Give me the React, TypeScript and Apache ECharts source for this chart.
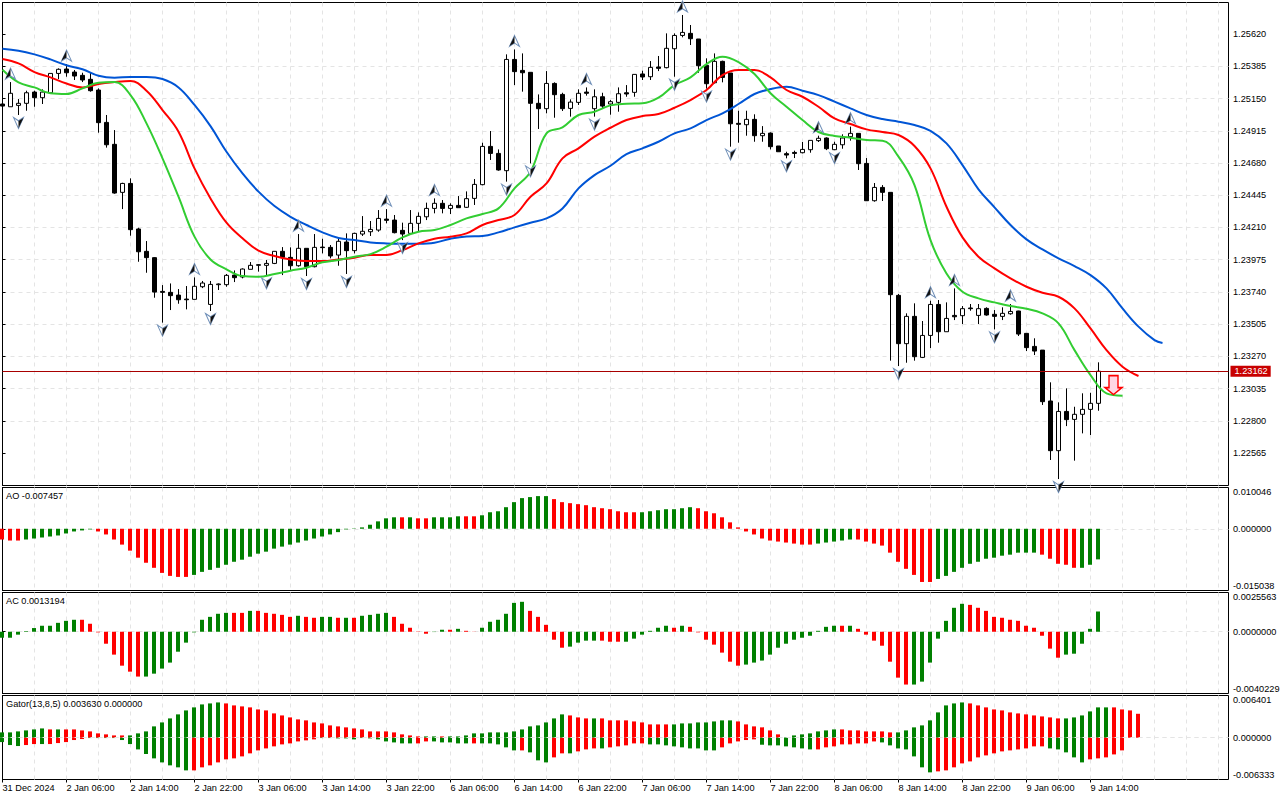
import React, { useEffect, useRef } from "react";
import * as echarts from "echarts";

// Prices are written in points (1 point = 0.00001)
const POINT = 0.00001;
const opens = [125110,125090,125100,125115,125197,125156,125192,125333,125365,125343,125319,125290,125212,124976,124816,124466,124531,124199,124036,123990,123744,123737,123717,123688,123686,123778,123649,123793,123793,123863,123849,123905,123934,123934,123948,124036,123992,123931,124058,123924,124067,124065,124009,124104,124041,124162,124179,124191,124271,124264,124189,124167,124240,124288,124349,124386,124349,124371,124357,124422,124522,124801,124750,124624,125435,125355,125341,125115,125076,125260,125180,125078,125122,125197,125076,125163,125110,125122,125192,125195,125329,125309,125380,125375,125513,125610,125625,125584,125392,125265,125421,125336,124969,124959,124998,124879,124898,124804,124748,124757,124755,124777,124843,124862,124777,124813,124872,124896,124677,124405,124502,124466,123715,123363,123562,123263,123423,123649,123450,123569,123567,123623,123569,123620,123577,123562,123581,123601,123438,123343,123316,122945,122583,122869,122811,122848,122884,122928];
const closes = [125095,125188,125115,125192,125156,125197,125333,125363,125338,125314,125285,125207,124974,124813,124461,124531,124194,124033,123990,123739,123737,123713,123683,123683,123781,123805,123795,123798,123861,123844,123907,123934,123939,123948,124036,123992,123931,124058,123924,124065,124063,124002,124109,124041,124167,124182,124196,124276,124262,124172,124162,124240,124291,124349,124386,124349,124371,124354,124420,124524,124801,124750,124629,125435,125346,125338,125115,125076,125260,125178,125076,125124,125188,125188,125163,125095,125127,125185,125183,125326,125307,125377,125370,125516,125610,125632,125586,125389,125258,125421,125304,124966,124962,124998,124879,124896,124799,124762,124738,124750,124779,124845,124860,124784,124816,124862,124896,124675,124405,124502,124466,123720,123363,123562,123268,123423,123649,123450,123547,123559,123618,123618,123618,123572,123562,123584,123598,123433,123334,123309,122940,122583,122869,122809,122848,122884,122928,123162];
const highs = [125139,125270,125146,125207,125207,125217,125333,125370,125401,125358,125338,125343,125224,125030,124920,124536,124568,124208,124111,123994,123790,123802,123761,123783,123846,123820,123820,123802,123871,123897,123912,123958,123943,123973,124036,124067,124065,124162,124058,124162,124128,124082,124128,124167,124172,124293,124257,124337,124344,124301,124245,124337,124320,124391,124422,124410,124386,124439,124473,124563,124828,124913,124779,125472,125508,125479,125341,125180,125350,125268,125192,125144,125217,125231,125217,125192,125139,125231,125248,125326,125353,125423,125460,125625,125625,125759,125686,125584,125443,125479,125426,125336,125061,125061,125035,124949,124903,124804,124762,124770,124833,124845,124879,124867,124835,124889,124945,124896,124716,124534,124519,124466,123725,123584,123657,123528,123676,123681,123664,123766,123637,123652,123652,123628,123608,123628,123652,123603,123438,123402,123316,123081,122935,123037,122903,123001,123005,123227];
const lows = [125066,125090,125030,125061,125090,125110,125192,125292,125309,125285,125270,125200,124901,124792,124456,124344,124150,123960,123880,123698,123516,123608,123654,123613,123686,123768,123601,123754,123778,123812,123839,123905,123888,123861,123943,123863,123900,123924,123856,123919,124021,123985,123931,123871,124021,124148,124148,124179,124240,124167,124118,124162,124179,124264,124313,124313,124308,124354,124352,124374,124517,124702,124624,124544,125248,125200,124677,124928,125042,125010,125059,125018,125103,125171,125018,125078,125032,125054,125163,125163,125285,125285,125350,125370,125309,125596,125540,125338,125222,125260,125268,124799,124828,124879,124835,124835,124779,124762,124714,124716,124750,124755,124833,124774,124774,124784,124843,124629,124403,124398,124403,123239,123200,123224,123239,123258,123331,123370,123450,123535,123506,123603,123506,123567,123467,123535,123574,123419,123309,123280,122916,122515,122376,122762,122510,122709,122697,122874];

// Alligator lines (the blue line's last entry is bar 145)
const jawValues = [125513,125499,125472,125435,125392,125363,125316,125302,125307,125307,125292,125231,125103,124949,124762,124604,124471,124366,124288,124228,124174,124133,124118,124101,124094,124092,124092,124099,124128,124145,124148,124174,124211,124245,124276,124349,124495,124592,124660,124745,124787,124835,124896,124932,124993,125042,125110,125183,125219,125236,125207,125175,125127,125078,125030,125000,124981,124957,124915,124823,124665,124488,124357,124228,124123,124050,123985,123929,123863,123766,123620,123487,123389,123368];
const teethValues = [125438,125406,125343,125304,125260,125231,125256,125270,125278,125207,125066,124908,124641,124422,124245,124131,124041,124002,123977,123965,123965,123977,123990,124009,124009,124045,124094,124128,124143,124167,124228,124264,124301,124434,124531,124714,124787,124872,124937,124993,125022,125037,125083,125139,125212,125321,125358,125358,125304,125212,125163,125090,125005,124964,124925,124906,124884,124804,124641,124361,124138,123997,123912,123839,123778,123734,123705,123620,123474,123316,123195,123127];
const lipsValues = [125360,125268,125231,125188,125183,125224,125265,125270,125175,124969,124714,124434,124143,123977,123905,123856,123851,123871,123895,123917,123956,123973,123997,124016,124070,124138,124179,124191,124228,124276,124308,124349,124495,124617,124896,124940,125030,125054,125100,125112,125115,125156,125248,125304,125401,125455,125416,125329,125188,125090,124993,124906,124877,124864,124847,124843,124726,124519,124118,123875,123742,123693,123664,123637,123618,123584,123511,123316,123134,123001,122984];

const fractalUpBars = [1,8,24,37,48,54,64,73,85,102,106,116,119,126];
const fractalDownBars = [2,20,26,33,38,43,50,63,66,74,84,88,91,98,104,112,124,132];
const sellArrow: [number, number] = [139, 1.23061];

const aoValues = [-0.00262,-0.00287,-0.00287,-0.00262,-0.00238,-0.00213,-0.00189,-0.00164,-0.00115,-0.00066,-0.00041,-0.00016,-0.00066,-0.00139,-0.00262,-0.00386,-0.00533,-0.00705,-0.00828,-0.00951,-0.01075,-0.01148,-0.01173,-0.01173,-0.01124,-0.0105,-0.01001,-0.00951,-0.00877,-0.00804,-0.00754,-0.00681,-0.00607,-0.00558,-0.00484,-0.00435,-0.00386,-0.00336,-0.00287,-0.00238,-0.00189,-0.00139,-0.00082,-0.00016,0.00008,0.00033,0.00098,0.0018,0.00254,0.00279,0.00279,0.00279,0.00254,0.00254,0.00279,0.00279,0.00279,0.00303,0.00303,0.00303,0.00328,0.00402,0.00426,0.00525,0.00648,0.00746,0.00771,0.00795,0.00795,0.00722,0.00648,0.00623,0.00599,0.00574,0.00525,0.005,0.00476,0.00426,0.00402,0.00402,0.00402,0.00426,0.00451,0.00476,0.00476,0.005,0.00525,0.005,0.00426,0.00377,0.00279,0.00156,0.00033,-0.00066,-0.00139,-0.00238,-0.00287,-0.00312,-0.00336,-0.00361,-0.00386,-0.00386,-0.00361,-0.00336,-0.00312,-0.00287,-0.00262,-0.00262,-0.00312,-0.00361,-0.0041,-0.00582,-0.00804,-0.00976,-0.01124,-0.01296,-0.01296,-0.01222,-0.01148,-0.0105,-0.00951,-0.00853,-0.00804,-0.0073,-0.00705,-0.00656,-0.00631,-0.00582,-0.00582,-0.00582,-0.00631,-0.0073,-0.00853,-0.00877,-0.00951,-0.00951,-0.00877,-0.007457];
const aoRuns: [string, number][] = [["r",3],["g",9],["r",12],["g",26],["r",1],["g",1],["r",2],["g",4],["r",2],["g",9],["r",11],["g",7],["r",15],["g",5],["r",10],["g",13],["r",5],["g",3]];

const acValues = [-0.00039,-0.00039,-0.00019,0.00004,0.00024,0.00039,0.00039,0.00058,0.00071,0.00078,0.00078,0.00052,-0.00004,-0.00078,-0.00149,-0.00221,-0.0026,-0.00292,-0.00292,-0.00273,-0.0024,-0.00201,-0.0013,-0.00071,-0.00004,0.00078,0.00097,0.00117,0.00123,0.00123,0.00123,0.00136,0.00136,0.00123,0.00117,0.0011,0.00097,0.00104,0.00097,0.00091,0.00097,0.00097,0.00091,0.00091,0.00091,0.00104,0.0011,0.00117,0.00123,0.00097,0.00052,0.00026,0.00002,-0.00013,-0.00002,0.00013,0.00013,0.00019,0.00006,0.00001,0.00026,0.00065,0.00078,0.00117,0.00188,0.00195,0.00136,0.00097,0.00045,-0.00052,-0.00104,-0.00097,-0.00071,-0.00058,-0.00058,-0.00058,-0.00065,-0.00065,-0.00065,-0.00045,-0.00019,0.00006,0.00026,0.00039,0.00026,0.00039,0.00032,-0.00004,-0.00052,-0.00084,-0.00136,-0.00195,-0.00221,-0.00214,-0.00201,-0.00188,-0.00149,-0.00104,-0.00078,-0.00052,-0.00039,-0.00026,0.00006,0.00032,0.00039,0.00039,0.00039,0.00019,-0.00019,-0.00058,-0.00091,-0.00195,-0.00299,-0.00344,-0.00344,-0.00325,-0.00201,-0.00045,0.00071,0.00156,0.00182,0.00175,0.00156,0.00136,0.00097,0.00091,0.00078,0.00071,0.00039,0.00026,-0.00026,-0.0011,-0.00169,-0.00149,-0.00143,-0.00078,0.00019,0.0013194];
const acRuns: [string, number][] = [["g",10],["r",8],["g",11],["r",2],["g",1],["r",5],["g",1],["r",2],["g",2],["r",1],["g",1],["r",1],["g",4],["r",5],["g",2],["r",1],["g",1],["r",2],["g",6],["r",5],["g",4],["r",3],["g",6],["r",1],["g",1],["r",7],["g",12],["r",1],["g",1],["r",7],["g",7],["r",12],["g",5]];

const gatorUpper = [0.00081,0.00081,0.00096,0.00111,0.00126,0.00141,0.00126,0.00126,0.00126,0.00126,0.00111,0.00096,0.00066,0.00051,0.00035,0.00035,0.00035,0.00066,0.00096,0.00172,0.00232,0.00293,0.00354,0.00414,0.0046,0.00505,0.0052,0.00535,0.0052,0.0049,0.00475,0.0046,0.00429,0.00414,0.00369,0.00338,0.00308,0.00278,0.00263,0.00232,0.00217,0.00187,0.00172,0.00157,0.00141,0.00126,0.00096,0.00096,0.00096,0.00081,0.00051,0.00035,0.0002,0.0002,0.0002,0.0002,0.0002,0.0002,0.00035,0.00066,0.00066,0.00081,0.00081,0.00081,0.00096,0.00126,0.00172,0.00187,0.00232,0.00293,0.00354,0.00338,0.00308,0.00293,0.00293,0.00293,0.00263,0.00263,0.00263,0.00247,0.00232,0.00202,0.00202,0.00202,0.00202,0.00217,0.00217,0.00232,0.00232,0.00247,0.00263,0.00263,0.00247,0.00202,0.00172,0.00157,0.00111,0.00051,0.00005,0.00035,0.00051,0.00066,0.00096,0.00111,0.00126,0.00126,0.00111,0.00111,0.00096,0.00096,0.00096,0.00081,0.00081,0.00111,0.00157,0.00187,0.00263,0.00384,0.0049,0.0052,0.00535,0.0052,0.0049,0.0046,0.00429,0.00414,0.00384,0.00369,0.00354,0.00338,0.00323,0.00308,0.00293,0.00293,0.00308,0.00338,0.00399,0.0046,0.0046,0.0046,0.00429,0.00414,0.00363];
const gatorUpperRuns: [string, number][] = [["g",6],["r",1],["g",1],["r",8],["g",12],["r",25],["g",2],["r",1],["g",15],["r",3],["g",1],["r",9],["g",8],["r",6],["g",7],["r",7],["g",9],["r",12],["g",6],["r",4]];
const gatorLower = [-0.00066,-0.00111,-0.00126,-0.00111,-0.00096,-0.00096,-0.00096,-0.00081,-0.00066,-0.00035,-0.0002,-0.00005,-0.00005,-0.00005,-0.00005,-0.00035,-0.00096,-0.00177,-0.00247,-0.00313,-0.00374,-0.00419,-0.00449,-0.00495,-0.00495,-0.00449,-0.00419,-0.00374,-0.00328,-0.00313,-0.00283,-0.00237,-0.00192,-0.00162,-0.00131,-0.00101,-0.00086,-0.00056,-0.0004,-0.00025,-0.00005,-0.00005,-0.0001,-0.0001,-0.00025,-0.00005,-0.0001,-0.00025,-0.00056,-0.00071,-0.00086,-0.00086,-0.00086,-0.00056,-0.00056,-0.00071,-0.00071,-0.00086,-0.00086,-0.00086,-0.00086,-0.00086,-0.00101,-0.00146,-0.00192,-0.00192,-0.00222,-0.00343,-0.00374,-0.00298,-0.00237,-0.00237,-0.00207,-0.00177,-0.00162,-0.00162,-0.00146,-0.00131,-0.00116,-0.00086,-0.00086,-0.00101,-0.00101,-0.00116,-0.00131,-0.00146,-0.00162,-0.00162,-0.00192,-0.00192,-0.00146,-0.00086,-0.00056,-0.00035,-0.00025,-0.00106,-0.00116,-0.00116,-0.00131,-0.00146,-0.00162,-0.00177,-0.00177,-0.00146,-0.00131,-0.00101,-0.00101,-0.00086,-0.00086,-0.00056,-0.00071,-0.00116,-0.00162,-0.00177,-0.00283,-0.00449,-0.00525,-0.0051,-0.00495,-0.00449,-0.00389,-0.00359,-0.00298,-0.00268,-0.00237,-0.00207,-0.00192,-0.00177,-0.00162,-0.00131,-0.00131,-0.00162,-0.00177,-0.00222,-0.00298,-0.00374,-0.00328,-0.00313,-0.00298,-0.00253,-0.00192,0,0];
const gatorLowerRuns: [string, number][] = [["g",3],["r",2],["g",1],["r",5],["g",13],["r",16],["g",12],["r",2],["g",5],["r",1],["g",5],["r",1],["g",3],["r",2],["g",1],["r",3],["g",1],["r",5],["g",9],["r",5],["g",7],["r",8],["g",7],["r",14],["g",5],["r",7]];

const timeLabels = ["31 Dec 2024","2 Jan 06:00","2 Jan 14:00","2 Jan 22:00","3 Jan 06:00","3 Jan 14:00","3 Jan 22:00","6 Jan 06:00","6 Jan 14:00","6 Jan 22:00","7 Jan 06:00","7 Jan 14:00","7 Jan 22:00","8 Jan 06:00","8 Jan 14:00","8 Jan 22:00","9 Jan 06:00","9 Jan 14:00"];
const priceTicks = [1.2562,1.25385,1.2515,1.24915,1.2468,1.24445,1.2421,1.23975,1.2374,1.23505,1.2327,1.23035,1.228,1.22565];
const lastPrice = 1.23162;
const aoScale = [-0.015038, 0.010046];
const acScale = [-0.0040229, 0.0025563];
const gatorScale = [-0.006333, 0.006401];

const FONT = "Liberation Sans";
const FONT_SIZE = 9.2;
const GREEN = "#008000";
const RED = "#ff0000";
const GRID_COLOR = "#e4e4e4";
const X_MAX = 153.25;
const LABEL_STEP = 8;
// half a pixel (1/16 of a bar) so that 4px columns fall on whole pixels
const COLUMN_SHIFT = -0.0625;

const expand = (runs: [string, number][]) =>
  runs.flatMap(([c, n]) => Array.from({ length: n }, () => (c === "g" ? GREEN : RED)));

const histogram = (values: number[], runs: [string, number][]) => {
  const colors = expand(runs);
  return values.map((v, i) => ({ value: [i + COLUMN_SHIFT, v], itemStyle: { color: colors[i] } }));
};

const alligator = (values: number[], name: string, color: string, lastBar?: number) => ({
  type: "line",
  name,
  xAxisIndex: 0,
  yAxisIndex: 0,
  showSymbol: false,
  symbol: "none",
  smooth: 0.4,
  lineStyle: { color, width: 2 },
  itemStyle: { color },
  z: 4,
  data: values.map((v, k) => [
    lastBar !== undefined && k === values.length - 1 ? lastBar : k * 2,
    v * POINT,
  ]),
  silent: true,
});

const ARROW_UP = "path://M5 0 L10 10 L5 7 L0 10 Z";
const ARROW_UP_DARK = "path://M5 0 L5 7 L0 10 Z";
const ARROW_DOWN = "path://M0 0 L5 3 L10 0 L5 10 Z";
const ARROW_DOWN_DARK = "path://M5 3 L10 0 L5 10 Z";
const SELL_ARROW = "path://M4 0 L13 0 L13 12 L17 12 L8.5 19 L0 12 L4 12 Z";

const fractal = (bars: number[], prices: number[], symbol: string, size: number[], offset: number[], fill: string, stroke: string) => ({
  type: "scatter",
  xAxisIndex: 0,
  yAxisIndex: 0,
  symbol,
  symbolSize: size,
  symbolOffset: offset,
  itemStyle: { color: fill, borderColor: stroke, borderWidth: stroke === "none" ? 0 : 1, opacity: 1 },
  z: 6,
  silent: true,
  data: bars.map((b) => [b, prices[b] * POINT]),
});

const grids = [
  { left: 2.5, top: 2.5, width: 1226, height: 483 },
  { left: 2.5, top: 487.5, width: 1226, height: 103 },
  { left: 2.5, top: 592.5, width: 1226, height: 101 },
  { left: 2.5, top: 695.5, width: 1226, height: 84 },
].map((g) => ({ ...g, show: true, outerBoundsMode: "none", containLabel: false, borderColor: "#000", borderWidth: 1, backgroundColor: "#fff" }));

const dashed = { show: true, showMinLine: false, showMaxLine: false, lineStyle: { color: GRID_COLOR, type: [4, 4] as number[], width: 1 } };

const gridXAxes = grids.map((_, k) => ({
  type: "value",
  gridIndex: k,
  min: 0,
  max: X_MAX,
  interval: 4,
  axisLine: { show: false },
  axisTick: { show: false },
  axisLabel: { show: false },
  splitLine: dashed,
}));

const timeValues = timeLabels.map((_, k) => k * LABEL_STEP);

const valueAxis = (gridIndex: number, min: number, max: number, ticks: number[], digits: number, pinEnds: boolean) => ({
  type: "value",
  gridIndex,
  position: "right",
  min,
  max,
  axisLine: { show: true, lineStyle: { color: "#000" } },
  axisTick: { show: true, length: 3, inside: false, lineStyle: { color: "#000" }, customValues: ticks },
  axisLabel: {
    show: true,
    color: "#000",
    fontFamily: FONT,
    fontSize: FONT_SIZE,
    margin: 4.5,
    customValues: ticks,
    formatter: (v: number) => v.toFixed(digits),
    showMinLabel: true,
    showMaxLabel: true,
    ...(pinEnds ? { verticalAlignMinLabel: "bottom", verticalAlignMaxLabel: "top" } : {}),
  },
  splitLine: dashed,
});

const indicatorBars = (gridK: number, data: any[], extra: any = {}) => ({
  type: "bar",
  xAxisIndex: gridK,
  yAxisIndex: gridK,
  barWidth: 4,
  barGap: "-100%",
  silent: true,
  data,
  ...extra,
});

const heading = (text: string, top: number) => ({
  text,
  left: 6,
  top,
  padding: 0,
  textStyle: { fontFamily: FONT, fontSize: FONT_SIZE, fontWeight: "normal", color: "#000" },
});

function buildOption() {
  return {
    animation: false,
    backgroundColor: "#fff",
    title: [
      heading("AO -0.007457", 491),
      heading("AC 0.0013194", 596),
      heading("Gator(13,8,5) 0.003630 0.000000", 699),
    ],
    grid: grids,
    xAxis: [
      ...gridXAxes,
      {
        type: "value",
        gridIndex: 3,
        position: "bottom",
        min: 0,
        max: X_MAX,
        axisLine: { show: false },
        axisTick: { show: true, length: 3, lineStyle: { color: "#000" }, customValues: timeValues },
        axisLabel: {
          show: true,
          color: "#000",
          fontFamily: FONT,
          fontSize: FONT_SIZE,
          margin: 4,
          align: "left",
          customValues: timeValues,
          formatter: (v: number) => timeLabels[Math.round(v / LABEL_STEP)] ?? "",
        },
        splitLine: { show: false },
      },
    ],
    yAxis: [
      valueAxis(0, 1.22329, 1.2585, priceTicks, 5, false),
      valueAxis(1, aoScale[0], aoScale[1], [aoScale[0], 0, aoScale[1]], 6, true),
      valueAxis(2, acScale[0], acScale[1], [acScale[0], 0, acScale[1]], 7, true),
      valueAxis(3, gatorScale[0], gatorScale[1], [gatorScale[0], 0, gatorScale[1]], 6, true),
    ],
    series: [
      {
        type: "candlestick",
        xAxisIndex: 0,
        yAxisIndex: 0,
        barWidth: 4,
        silent: true,
        z: 3,
        itemStyle: {
          color: "#fff",
          color0: "#000",
          borderColor: "#000",
          borderColor0: "#000",
          borderColorDoji: "#000",
          borderWidth: 1,
        },
        data: opens.map((o, i) => [i, o * POINT, closes[i] * POINT, lows[i] * POINT, highs[i] * POINT]),
      },
      alligator(jawValues, "Jaws", "#0055d5", 145),
      alligator(teethValues, "Teeth", "#ff0000"),
      {
        ...alligator(lipsValues, "Lips", "#32cd32"),
        markLine: {
          silent: true,
          symbol: "none",
          animation: false,
          precision: 5,
          lineStyle: { color: "#a80000", width: 1, type: "solid" },
          label: {
            show: true,
            position: "end",
            distance: 2,
            formatter: lastPrice.toFixed(5),
            backgroundColor: "#c80000",
            color: "#fff",
            fontFamily: FONT,
            fontSize: FONT_SIZE,
            padding: [1, 3, 1, 4],
          },
          data: [{ yAxis: lastPrice }],
        },
      },
      fractal(fractalUpBars, highs, ARROW_UP, [10, 11], [0, -8.5], "#fff", "#6f8fb8"),
      fractal(fractalUpBars, highs, ARROW_UP_DARK, [5, 10], [-2.5, -8.5], "#111", "none"),
      fractal(fractalDownBars, lows, ARROW_DOWN, [10, 11], [0, 8], "#fff", "#6f8fb8"),
      fractal(fractalDownBars, lows, ARROW_DOWN_DARK, [5, 10], [2.5, 8], "#111", "none"),
      {
        type: "scatter",
        xAxisIndex: 0,
        yAxisIndex: 0,
        symbol: SELL_ARROW,
        symbolSize: [17, 19],
        symbolOffset: [-1, 0],
        itemStyle: { color: "#ffd6e4", borderColor: "#ff0000", borderWidth: 1.5, opacity: 1 },
        z: 6,
        silent: true,
        data: [sellArrow],
      },
      indicatorBars(1, histogram(aoValues, aoRuns)),
      indicatorBars(2, histogram(acValues, acRuns)),
      indicatorBars(3, histogram(gatorUpper, gatorUpperRuns)),
      indicatorBars(3, histogram(gatorLower, gatorLowerRuns), {
        markLine: {
          silent: true,
          symbol: "none",
          animation: false,
          label: { show: false },
          lineStyle: { color: GRID_COLOR, width: 1, type: [4, 4] },
          data: [{ yAxis: 0 }],
        },
      }),
    ],
  };
}

export default function App() {
  const ref = useRef<HTMLDivElement | null>(null);
  useEffect(() => {
    document.body.style.margin = "0";
    const chart = echarts.init(ref.current!, undefined, { renderer: "svg" });
    chart.setOption(buildOption() as any);
    return () => chart.dispose();
  }, []);
  return <div ref={ref} style={{ position: "fixed", left: 0, top: 0, width: 1280, height: 800, background: "#fff" }} />;
}
